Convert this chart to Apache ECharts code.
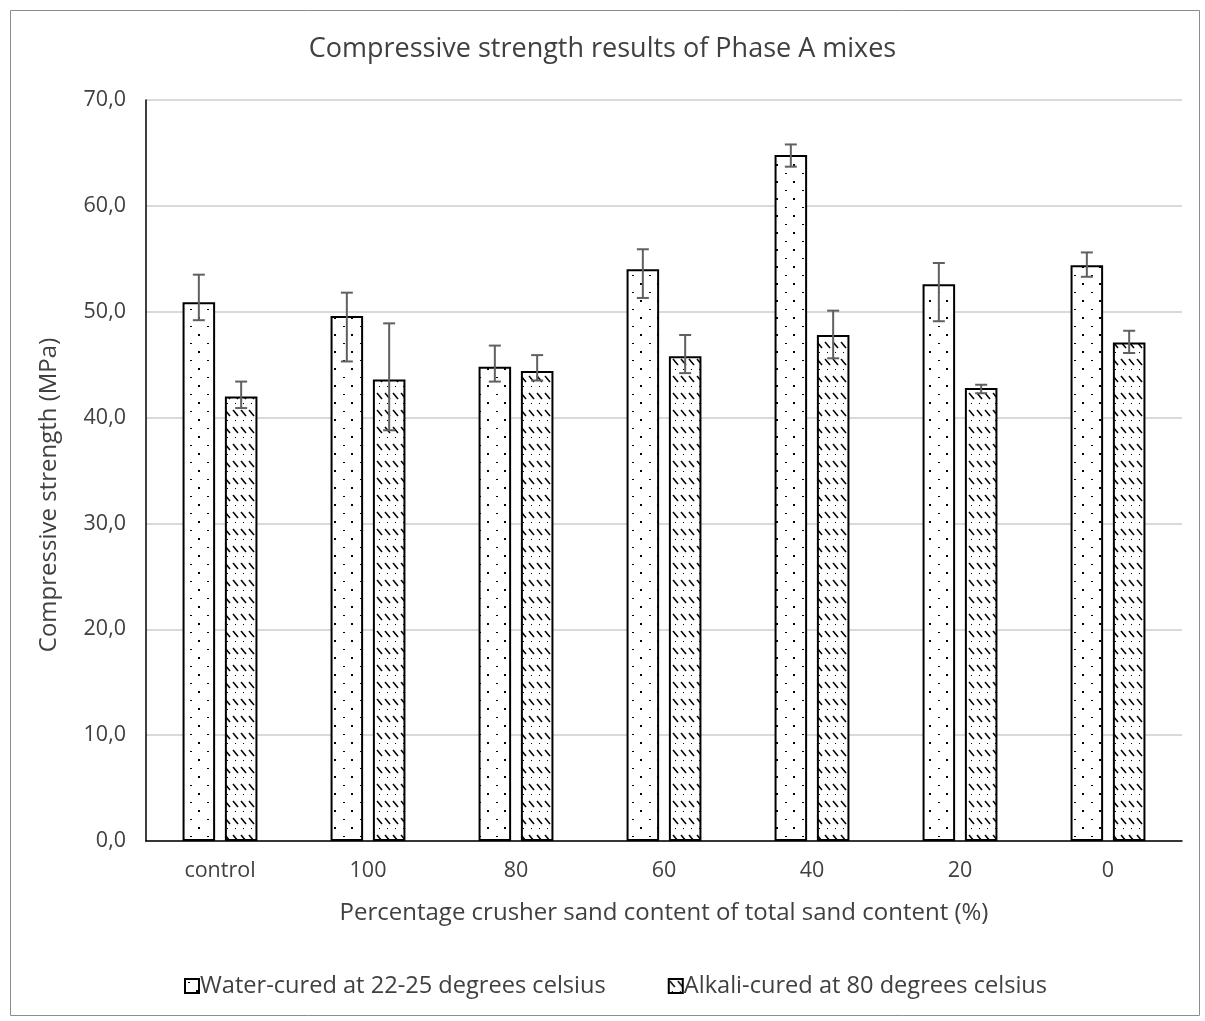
<!DOCTYPE html>
<html>
<head>
<meta charset="utf-8">
<script src="https://cdn.jsdelivr.net/npm/echarts@6/dist/echarts.min.js"></script>
<style>
  html, body { margin: 0; padding: 0; background: #fff; }
  #chart { width: 1205px; height: 1021px; }
</style>
</head>
<body>
<div id="chart"></div>
<script>
// Mix designations (share of crusher sand in total sand, %)
const categories = ['control', '100', '80', '60', '40', '20', '0'];

// Water-cured at 22-25 °C: mean strength and error bar ends (MPa)
const waterMean = [50.9, 49.6, 44.8, 54.0, 64.8, 52.6, 54.4];
const waterHigh = [53.5, 51.8, 46.8, 55.9, 65.8, 54.6, 55.6];
const waterLow  = [49.2, 45.3, 43.4, 51.3, 63.7, 49.1, 53.3];

// Alkali-cured at 80 °C: mean strength and error bar ends (MPa)
const alkaliMean = [42.0, 43.6, 44.4, 45.8, 47.8, 42.8, 47.1];
const alkaliHigh = [43.4, 48.9, 45.9, 47.8, 50.1, 43.1, 48.2];
const alkaliLow  = [40.9, 38.8, 43.5, 44.2, 45.6, 42.3, 46.1];

const seriesNames = ['Water-cured at 22-25 degrees celsius', 'Alkali-cured at 80 degrees celsius'];
const yTicks = { min: 0, max: 70, interval: 10 };

const FONT = '"Open Sans", Lato, sans-serif';
const TEXT = '#404040';

// Fill patterns for the two bar series
function dotPattern() {
  const c = document.createElement('canvas');
  c.width = 17; c.height = 17;
  const g = c.getContext('2d');
  g.fillStyle = '#fff';
  g.fillRect(0, 0, 17, 17);
  g.fillStyle = '#000';
  g.fillRect(3, 3, 2, 1);
  g.fillRect(11, 11, 2, 2);
  return c;
}
function dashPattern() {
  const c = document.createElement('canvas');
  c.width = 8; c.height = 17;
  const g = c.getContext('2d');
  g.fillStyle = '#fff';
  g.fillRect(0, 0, 8, 17);
  g.strokeStyle = '#000';
  g.lineWidth = 1.5;
  g.beginPath();
  g.moveTo(1, 2);
  g.lineTo(6, 8);
  g.stroke();
  g.fillStyle = '#000';
  g.fillRect(3, 12, 1, 1);
  return c;
}

const BAR_W = 0.22;   // fraction of category band
const BAR_GAP = 0.3;  // fraction of bar width

function errorSeries(name, low, high, sign) {
  return {
    type: 'custom',
    name: name,
    z: 5,
    silent: true,
    data: categories.map((c, i) => [i, low[i], high[i]]),
    renderItem: function (params, api) {
      const i = api.value(0);
      const band = api.size([1, 0])[0];
      const bw = band * BAR_W;
      const off = sign * bw * (1 + BAR_GAP) / 2;
      const pLo = api.coord([i, api.value(1)]);
      const pHi = api.coord([i, api.value(2)]);
      const x = pLo[0] + off;
      const cap = 6;
      const st = { stroke: '#606060', lineWidth: 2 };
      return {
        type: 'group',
        children: [
          { type: 'line', shape: { x1: x, y1: pLo[1], x2: x, y2: pHi[1] }, style: st },
          { type: 'line', shape: { x1: x - cap, y1: pHi[1], x2: x + cap, y2: pHi[1] }, style: st },
          { type: 'line', shape: { x1: x - cap, y1: pLo[1], x2: x + cap, y2: pLo[1] }, style: st }
        ]
      };
    },
    tooltip: { show: false }
  };
}

const chart = echarts.init(document.getElementById('chart'), null, { renderer: 'canvas' });

chart.setOption({
  animation: false,
  backgroundColor: '#fff',
  title: {
    text: 'Compressive strength results of Phase A mixes',
    left: 'center',
    top: 31,
    textStyle: { fontFamily: FONT, fontWeight: 400, fontSize: 27, color: TEXT }
  },
  legend: {
    bottom: 18,
    left: 179,
    icon: 'rect',
    itemWidth: 14,
    itemHeight: 14,
    itemGap: 62,
    data: seriesNames,
    textStyle: { fontFamily: FONT, fontSize: 23.6, color: TEXT, padding: [0, 0, 0, -4] }
  },
  grid: { left: 146, right: 23, top: 100, bottom: 180, containLabel: false },
  xAxis: {
    type: 'category',
    data: categories,
    name: 'Percentage crusher sand content of total sand content (%)',
    nameLocation: 'middle',
    nameGap: 60,
    nameTextStyle: { fontFamily: FONT, fontSize: 24, color: TEXT },
    axisLine: { lineStyle: { color: '#000', width: 1.5 } },
    axisTick: { show: false },
    axisLabel: { fontFamily: FONT, fontSize: 21.5, color: TEXT, margin: 19 }
  },
  yAxis: {
    type: 'value',
    min: yTicks.min,
    max: yTicks.max,
    interval: yTicks.interval,
    axisLine: { show: true, lineStyle: { color: '#000', width: 1.5 } },
    axisTick: { show: false },
    splitLine: { lineStyle: { color: '#d9d9d9', width: 2 } },
    axisLabel: {
      fontFamily: FONT, fontSize: 21.5, color: TEXT, margin: 20,
      formatter: v => v.toFixed(1).replace('.', ',')
    }
  },
  series: [
    {
      type: 'bar',
      name: seriesNames[0],
      data: waterMean,
      barWidth: (BAR_W * 100) + '%',
      barGap: (BAR_GAP * 100) + '%',
      itemStyle: { color: { image: dotPattern(), repeat: 'repeat' }, borderColor: '#000', borderWidth: 2 }
    },
    {
      type: 'bar',
      name: seriesNames[1],
      data: alkaliMean,
      barWidth: (BAR_W * 100) + '%',
      barGap: (BAR_GAP * 100) + '%',
      itemStyle: { color: { image: dashPattern(), repeat: 'repeat' }, borderColor: '#000', borderWidth: 2 }
    },
    errorSeries('waterErr', waterLow, waterHigh, -1),
    errorSeries('alkaliErr', alkaliLow, alkaliHigh, 1)
  ],
  graphic: [
    {
      type: 'rect',
      left: 8, top: 8,
      shape: { width: 1189, height: 1005 },
      style: { fill: 'none', stroke: '#8c8c8c', lineWidth: 1 },
      silent: true
    },
    {
      // Y-axis title, rotated to read bottom-to-top
      type: 'text',
      x: 49, y: 495,
      rotation: Math.PI / 2,
      style: {
        text: 'Compressive strength (MPa)',
        font: '24px ' + FONT,
        fill: TEXT,
        align: 'center',
        verticalAlign: 'middle'
      },
      silent: true
    }
  ]
});
</script>
</body>
</html>
